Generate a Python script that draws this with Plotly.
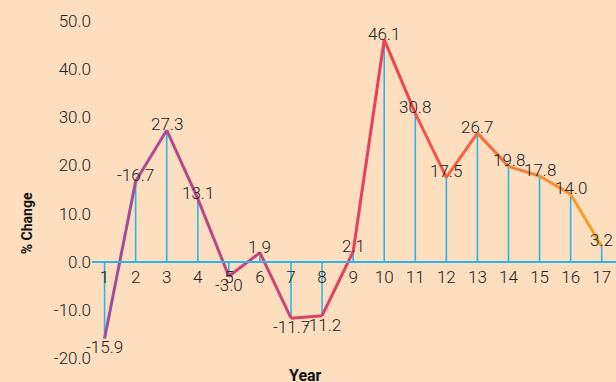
import plotly.graph_objects as go

years = list(range(1, 18))
values = [-15.9, 16.7, 27.3, 13.1, -3.0, 1.9, -11.7, -11.2, 2.1, 46.1, 30.8, 17.5, 26.7, 19.8, 17.8, 14.0, 3.2]
labels = ["-15.9", "-16.7", "27.3", "13.1", "-3.0", "1.9", "-11.7", "-11.2", "2.1", "46.1",
          "30.8", "17.5", "26.7", "19.8", "17.8", "14.0", "3.2"]
y_ticks = [-20, -10, 0, 10, 20, 30, 40, 50]

BG = "#FDDEBF"
DROP = "#2BB5EC"
FONT = "Roboto"
stops = [(1, (155, 79, 159)), (10, (238, 62, 85)), (17, (245, 166, 35))]


def grad(x):
    for (x0, c0), (x1, c1) in zip(stops[:-1], stops[1:]):
        if x <= x1:
            t = (x - x0) / (x1 - x0)
            return "rgb(%d,%d,%d)" % tuple(round(a + (b - a) * t) for a, b in zip(c0, c1))
    return "rgb(%d,%d,%d)" % stops[-1][1]


fig = go.Figure()

dx, dy = [], []
for x, v in zip(years, values):
    dx += [x, x, None]
    dy += [0, v, None]
fig.add_trace(go.Scatter(x=dx, y=dy, mode="lines", line=dict(color=DROP, width=1.6),
                         hoverinfo="skip", showlegend=False))

for i in range(len(years) - 1):
    xm = (years[i] + years[i + 1]) / 2
    fig.add_trace(go.Scatter(x=years[i:i + 2], y=values[i:i + 2], mode="lines",
                             line=dict(color=grad(xm), width=3),
                             showlegend=False, hoverinfo="skip"))

for x, v, t in zip(years, values, labels):
    fig.add_annotation(x=x, y=v, text=t, showarrow=False, yshift=6 if v >= 0 else -9,
                       font=dict(family=FONT, size=17, weight=300, color="#222222"))

ymin, ymax = -21, 51
fig.add_annotation(xref="paper", yref="paper", x=-0.143, y=0.403, text="<b>% Change</b>",
                   textangle=-90, showarrow=False, font=dict(family="Roboto", size=14, color="#111"))
fig.add_annotation(xref="paper", yref="paper", x=0.408, y=-0.035, text="<b>Year</b>",
                   showarrow=False, yanchor="middle", font=dict(family="Roboto", size=16, color="#111"))

fig.update_layout(
    width=616, height=382, margin=dict(l=92, r=0, t=16, b=19),
    paper_bgcolor=BG, plot_bgcolor=BG,
    font=dict(family=FONT, size=17, weight=300, color="#222222"),
    xaxis=dict(range=[0.595, 17.46], tickvals=years, ticktext=[str(y) for y in years],
               showgrid=False, zeroline=False, showline=True, linecolor=DROP, linewidth=2,
               anchor="free", position=(0 - ymin) / (ymax - ymin), ticks=""),
    yaxis=dict(range=[ymin, ymax], tickvals=y_ticks, ticktext=["%.1f" % t for t in y_ticks],
               showgrid=False, zeroline=False, showline=False, ticks=""),
)

fig.write_html("out.html")
